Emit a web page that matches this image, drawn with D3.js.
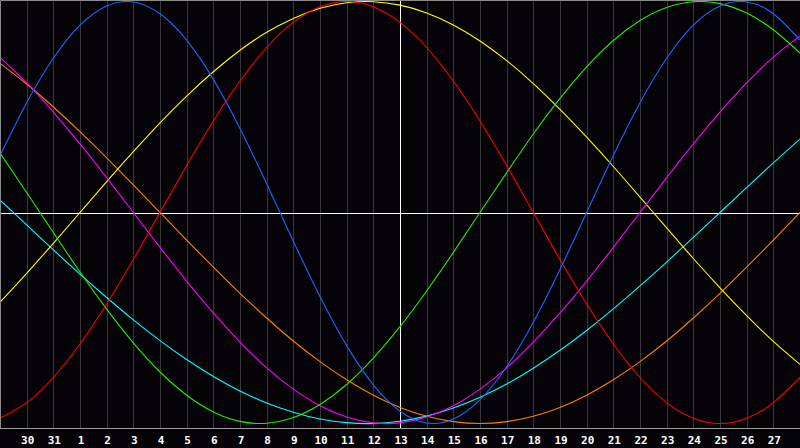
<!DOCTYPE html>
<html>
<head>
<meta charset="utf-8">
<script src="https://cdn.jsdelivr.net/npm/d3@7"></script>
<style>
  html, body { margin: 0; padding: 0; background: #050308; }
  svg { display: block; }
</style>
</head>
<body>
<div id="chart"></div>
<script>
// day labels under the gridlines 1..29
var dayLabels = ["30","31","1","2","3","4","5","6","7","8","9","10","11","12","13",
                 "14","15","16","17","18","19","20","21","22","23","24","25","26","27"];
var todayIndex = 15;

// values per day (index 0..30), percent
var physical     = [27.0,52.0,73.1,88.8,97.9,99.8,94.2,81.7,63.1,39.8,13.6,-13.6,-39.8,-63.1,-81.7,-94.2,-99.8,-97.9,-88.8,-73.1,-52.0,-27.0,0,27.0,52.0,73.1,88.8,97.9,99.8,94.2,81.7];
var emotional    = [-97.5,-90.1,-78.2,-62.3,-43.4,-22.3,0,22.3,43.4,62.3,78.2,90.1,97.5,100,97.5,90.1,78.2,62.3,43.4,22.3,0,-22.3,-43.4,-62.3,-78.2,-90.1,-97.5,-100,-97.5,-90.1,-78.2];
var intellectual = [28.2,9.5,-9.5,-28.2,-45.8,-61.8,-75.6,-86.6,-94.5,-99.0,-99.9,-97.2,-91.0,-81.5,-69.0,-54.1,-37.2,-18.9,0,18.9,37.2,54.1,69.0,81.5,91.0,97.2,99.9,99.0,94.5,86.6,75.6];
var intuitive    = [73.6,61.4,47.6,32.5,16.5,0,-16.5,-32.5,-47.6,-61.4,-73.6,-83.7,-91.6,-96.9,-99.7,-99.7,-96.9,-91.6,-83.7,-73.6,-61.4,-47.6,-32.5,-16.5,0,16.5,32.5,47.6,61.4,73.6,83.7];
var aesthetic    = [-42.5,-28.8,-14.6,0,14.6,28.8,42.5,55.2,66.7,76.9,85.4,92.0,96.8,99.4,99.9,98.3,94.6,88.9,81.3,72.0,61.1,48.9,35.7,21.8,7.3,-7.3,-21.8,-35.7,-48.9,-61.1,-72.0];
var awareness    = [70.7,60.9,50.0,38.3,25.9,13.1,0,-13.1,-25.9,-38.3,-50.0,-60.9,-70.7,-79.3,-86.6,-92.4,-96.6,-99.1,-100,-99.1,-96.6,-92.4,-86.6,-79.3,-70.7,-60.9,-50.0,-38.3,-25.9,-13.1,0];
var spiritual    = [5.9,-5.9,-17.7,-29.2,-40.3,-50.9,-60.7,-69.7,-77.7,-84.6,-90.3,-94.7,-97.9,-99.6,-100,-98.9,-96.5,-92.7,-87.6,-81.3,-73.8,-65.3,-55.9,-45.7,-34.8,-23.5,-11.8,0,11.8,23.5,34.8];

var seriesNames  = ["spiritual","awareness","aesthetic","intuitive","intellectual","emotional","physical"];
var seriesData   = [spiritual, awareness, aesthetic, intuitive, intellectual, emotional, physical];
var seriesColors = ["#00ffff","#ff7f00","#ffff00","#ff00ff","#22ee00","#ff0000","#1e66ff"];

var width = 800, height = 448, plot_h = 428;

var svg = d3.select("#chart")
    .append("svg")
    .attr("width", width)
    .attr("height", height);

var x = d3.scaleLinear().domain([0, 30]).range([0, width]);
var y = d3.scaleLinear().domain([-100, 100]).range([423.5, 1.5]);

svg.append("rect")
    .attr("x", 0).attr("y", 0)
    .attr("width", width).attr("height", height)
    .attr("fill", "#050308");

// vertical gridlines
svg.selectAll(".grid")
    .data(dayLabels)
    .enter()
    .append("line")
    .attr("class", "grid")
    .attr("x1", function (d, i) { return Math.round(x(i + 1)) + 0.5; })
    .attr("x2", function (d, i) { return Math.round(x(i + 1)) + 0.5; })
    .attr("y1", 0)
    .attr("y2", plot_h)
    .attr("stroke", function (d, i) { return i + 1 === todayIndex ? "#ffffff" : "#383838"; })
    .attr("stroke-width", 1);

// centre line
svg.append("line")
    .attr("x1", 0).attr("x2", width)
    .attr("y1", 213.5).attr("y2", 213.5)
    .attr("stroke", "#ffffff").attr("stroke-width", 1);

// frame: top, left, bottom
svg.append("path")
    .attr("d", "M0.5," + plot_h + "V0.5H" + width)
    .attr("fill", "none").attr("stroke", "#8a8a8a").attr("stroke-width", 1);
svg.append("line")
    .attr("x1", 0).attr("x2", width)
    .attr("y1", plot_h + 0.5).attr("y2", plot_h + 0.5)
    .attr("stroke", "#9a9a9a").attr("stroke-width", 1);

var line = d3.line()
    .x(function (d, i) { return x(i); })
    .y(function (d) { return y(d); })
    .curve(d3.curveNatural);

svg.append("clipPath").attr("id", "plotclip")
    .append("rect").attr("x", 1).attr("y", 1).attr("width", width - 1).attr("height", plot_h - 1);

svg.append("g")
    .attr("clip-path", "url(#plotclip)")
    .selectAll(".cycle")
    .data(seriesData)
    .enter()
    .append("path")
    .attr("class", "cycle")
    .attr("d", function (d) { return line(d); })
    .attr("fill", "none")
    .attr("stroke", function (d, i) { return seriesColors[i]; })
    .attr("stroke-width", 1.1);

// day labels
svg.selectAll(".day")
    .data(dayLabels)
    .enter()
    .append("text")
    .attr("class", "day")
    .attr("x", function (d, i) { return x(i + 1) + 1; })
    .attr("y", 443.5)
    .attr("text-anchor", "middle")
    .attr("fill", "#ffffff")
    .attr("font-family", "DejaVu Sans Mono, monospace")
    .attr("font-weight", "bold")
    .attr("font-size", "11px")
    .text(function (d) { return d; });
</script>
</body>
</html>
